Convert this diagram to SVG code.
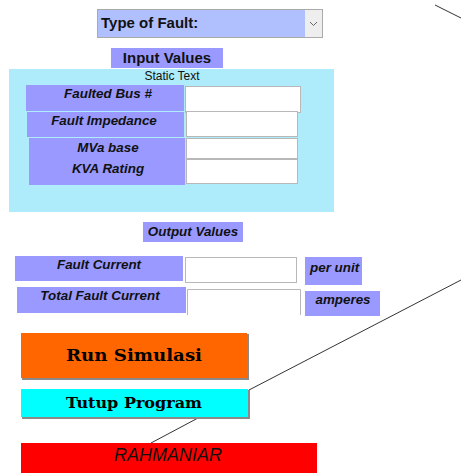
<svg xmlns="http://www.w3.org/2000/svg" width="461" height="473" viewBox="0 0 461 473">
  <style>
    .lbl { fill: #9999ff; }
    .box { fill: #ffffff; stroke: #b8b8b8; stroke-width: 1; }
    .t { font-family: "Liberation Sans", Arial, sans-serif; fill: #111; }
    .bi { font-weight: bold; font-style: italic; font-size: 13.4px; }
    .btn { font-family: "DejaVu Serif", "Liberation Serif", serif; font-weight: bold; fill: #000; }
    .conn { stroke: #333; stroke-width: 1; fill: none; }
  </style>
  <rect width="461" height="473" fill="#ffffff"/>

  <!-- connectors -->
  <g id="connectors">
    <line class="conn" x1="435" y1="5" x2="461" y2="18"/>
    <line class="conn" x1="249" y1="390" x2="461" y2="280"/>
    <line class="conn" x1="198" y1="418" x2="151" y2="443"/>
  </g>

  <!-- fault type selector -->
  <g id="fault-type">
    <rect x="97.5" y="9.5" width="225" height="28" fill="#b0c0ff" stroke="#aaaaaa"/>
    <rect x="305" y="10" width="17" height="27" fill="#eeeeee"/>
    <polyline points="310,22 313.5,25.5 317,22" fill="none" stroke="#666" stroke-width="1"/>
    <text class="t" x="101" y="28" font-size="15" font-weight="bold">Type of Fault:</text>
  </g>

  <!-- input section -->
  <g id="input-panel">
    <rect x="9" y="69" width="325" height="143" fill="#aeebfb"/>
    <text class="t" x="172" y="80" font-size="12" text-anchor="middle">Static Text</text>
  </g>
  <g id="input-title">
    <rect class="lbl" x="111" y="48" width="112" height="20"/>
    <text class="t" x="167" y="63" font-size="15" font-weight="bold" text-anchor="middle">Input Values</text>
  </g>

  <g id="faulted-bus">
    <rect class="lbl" x="26" y="85" width="158" height="26"/>
    <text class="t bi" x="108" y="98" text-anchor="middle">Faulted Bus #</text>
    <rect class="box" x="185.5" y="86.5" width="115" height="26"/>
  </g>
  <g id="fault-impedance">
    <rect class="lbl" x="27" y="112" width="157" height="25"/>
    <text class="t bi" x="104" y="125" text-anchor="middle">Fault Impedance</text>
    <rect class="box" x="186.5" y="111.5" width="111" height="25"/>
  </g>
  <g id="mva-kva">
    <rect class="lbl" x="29" y="138" width="156" height="47"/>
    <text class="t bi" x="108" y="152" text-anchor="middle">MVa base</text>
    <text class="t bi" x="108" y="173" text-anchor="middle">KVA Rating</text>
    <rect class="box" x="186.5" y="138.5" width="111" height="20"/>
    <rect class="box" x="186.5" y="159.5" width="111" height="24"/>
  </g>

  <!-- output section -->
  <g id="output-title">
    <rect class="lbl" x="143" y="222" width="100" height="20"/>
    <text class="t bi" x="193" y="236" text-anchor="middle">Output Values</text>
  </g>
  <g id="fault-current">
    <rect class="lbl" x="15" y="256" width="168" height="25"/>
    <text class="t bi" x="99" y="269" text-anchor="middle">Fault Current</text>
    <rect class="box" x="185.5" y="257.5" width="111" height="25"/>
    <rect class="lbl" x="305" y="257" width="57" height="28"/>
    <text class="t bi" x="310" y="272">per unit</text>
  </g>
  <g id="total-fault-current">
    <rect class="lbl" x="17" y="287" width="169" height="26"/>
    <text class="t bi" x="100" y="300" text-anchor="middle">Total Fault Current</text>
    <path d="M187.5 315 V289.5 H300.5 V315" fill="#fff" stroke="#b8b8b8"/>
    <rect class="lbl" x="305" y="291" width="75" height="25"/>
    <text class="t bi" x="343" y="304" text-anchor="middle">amperes</text>
  </g>

  <!-- buttons -->
  <g id="run-simulasi">
    <rect x="22" y="334" width="227" height="46" fill="#8a8a8a"/>
    <rect x="21" y="333" width="226" height="45" fill="#ff6600"/>
    <text class="btn" x="134" y="361" font-size="16" text-anchor="middle" textLength="136" lengthAdjust="spacingAndGlyphs">Run Simulasi</text>
  </g>
  <g id="tutup-program">
    <rect x="22" y="390" width="228" height="29" fill="#8a8a8a"/>
    <rect x="21" y="389" width="227" height="28" fill="#00ffff"/>
    <text class="btn" x="134" y="408" font-size="14" text-anchor="middle" textLength="136" lengthAdjust="spacingAndGlyphs">Tutup Program</text>
  </g>
  <g id="rahmaniar">
    <rect x="21" y="443" width="296" height="30" fill="#ff0000"/>
    <text class="t" x="168" y="461" font-size="18" font-style="italic" text-anchor="middle">RAHMANIAR</text>
  </g>
</svg>
